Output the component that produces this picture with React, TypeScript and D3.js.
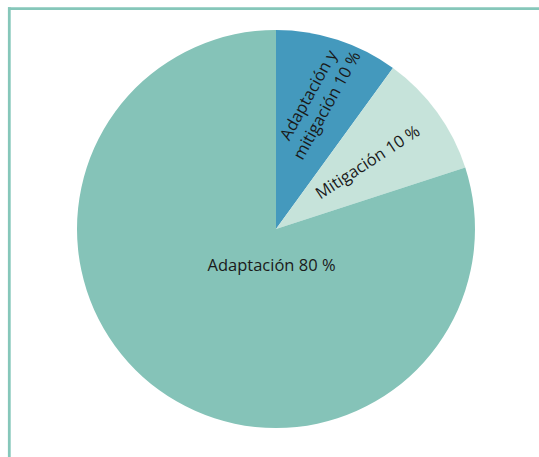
import React from 'react';
import * as d3 from 'd3';

// slices, clockwise from 12 o'clock
const labels = [['Adaptación y', 'mitigación 10 %'], ['Mitigación 10 %'], ['Adaptación 80 %']];
const values = [10, 10, 80];
const colors = ['#4499bd', '#c6e3da', '#85c3b8'];

const W = 539;
const H = 457;
const CX = 276;
const CY = 229;
const R = 199;

// where each label sits (fraction of radius, rotation in degrees)
const labelPos = [
  { r: 0.68, rot: -61, dx: 0, dy: 0 },
  { r: 0.57, rot: -33, dx: 0, dy: 0 },
  { r: 0, rot: 0, dx: -4.5, dy: 36 },
];

export default function App() {
  const pie = d3.pie<number>().sort(null)(values);
  const arc = d3.arc<d3.PieArcDatum<number>>().innerRadius(0).outerRadius(R);

  return (
    <svg width={W} height={H} style={{ position: 'absolute', left: 0, top: 0 }}
      fontFamily="'Open Sans', sans-serif">
      <rect width={W} height={H} fill="#fff" />
      <line x1={8} x2={W} y1={8.7} y2={8.7} stroke="#86c7ba" strokeWidth={2.8} />
      <line x1={9.3} x2={9.3} y1={7.3} y2={H} stroke="#86c7ba" strokeWidth={2.8} />
      <g transform={`translate(${CX},${CY})`}>
        {pie.map((d, i) => (
          <path key={i} d={arc(d) || ''} fill={colors[i]} />
        ))}
        {pie.map((d, i) => {
          const lp = labelPos[i];
          const c = d3.arc<d3.PieArcDatum<number>>()
            .innerRadius(R * lp.r).outerRadius(R * lp.r).centroid(d);
          const x = c[0] + lp.dx;
          const y = c[1] + lp.dy;
          const lines = labels[i];
          const lh = 21;
          return (
            <text key={i} transform={`translate(${x},${y}) rotate(${lp.rot})`}
              textAnchor="middle" fontSize={16.5} fill="#1a1a1a">
              {lines.map((t, j) => (
                <tspan key={j} x={0} y={(j - (lines.length - 1) / 2) * lh + 5.5}>{t}</tspan>
              ))}
            </text>
          );
        })}
      </g>
    </svg>
  );
}
